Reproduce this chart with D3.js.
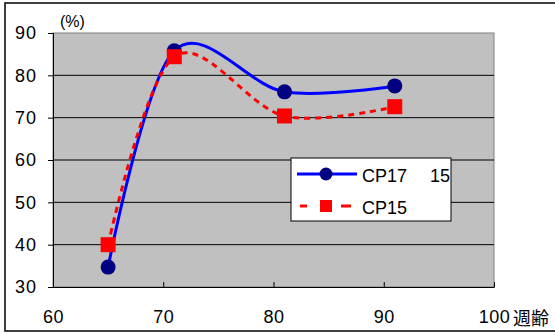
<!DOCTYPE html>
<html>
<head>
<meta charset="utf-8">
<script src="https://cdn.jsdelivr.net/npm/d3@7"></script>
<style>
  body { margin: 0; background: #fff; }
  svg { display: block; font-family: "Liberation Sans", Arial, sans-serif; }
</style>
</head>
<body>
<div id="chart"></div>
<script>
    var ages = [65, 71, 81, 91],
        cp17 = [34.7, 85.8, 76.1, 77.5],
        cp15 = [40, 84.4, 70.4, 72.6],
        xTicks = [60, 70, 80, 90, 100],
        yTicks = [30, 40, 50, 60, 70, 80, 90],
        seriesNames = ["CP17\u3000 15", "CP15"];

    var width = 555,
        height = 333,
        plotLeft = 53, plotRight = 494, plotTop = 33, plotBottom = 287;

    var svg = d3.select("#chart").append("svg")
        .attr("width", width)
        .attr("height", height);

    // outer frame
    svg.append("rect")
        .attr("x", 5).attr("y", 3)
        .attr("width", 560).attr("height", 328)
        .attr("fill", "#fff")
        .attr("stroke", "#000")
        .attr("stroke-width", 1.5);

    var x = d3.scaleLinear().domain([60, 100]).range([plotLeft, plotRight]);
    var y = d3.scaleLinear().domain([30, 90]).range([plotBottom, plotTop]);

    // plot area
    svg.append("rect")
        .attr("x", plotLeft).attr("y", plotTop)
        .attr("width", plotRight - plotLeft).attr("height", plotBottom - plotTop)
        .attr("fill", "#c0c0c0")
        .attr("stroke", "#808080")
        .attr("stroke-width", 1);

    // gridlines
    svg.selectAll(".grid")
        .data(yTicks.filter(function(d) { return d > 30 && d < 90; }))
        .enter().append("line")
        .attr("class", "grid")
        .attr("x1", plotLeft).attr("x2", plotRight)
        .attr("y1", function(d) { return y(d); })
        .attr("y2", function(d) { return y(d); })
        .attr("stroke", "#000")
        .attr("stroke-width", 1);

    // y axis
    var yAxis = svg.append("g")
        .attr("transform", "translate(" + plotLeft + ",0)")
        .call(d3.axisLeft(y).tickValues(yTicks).tickSize(5).tickPadding(11));
    yAxis.select(".domain").attr("stroke", "#000");
    yAxis.selectAll("text").attr("font-size", 18).attr("fill", "#000")
        .attr("letter-spacing", 1)
        .attr("font-family", "Liberation Sans, Arial, sans-serif");

    // x axis (ticks pointing inward)
    var xAxis = svg.append("g")
        .attr("transform", "translate(0," + plotBottom + ")")
        .call(d3.axisBottom(x).tickValues(xTicks).tickSizeInner(-5).tickSizeOuter(0).tickPadding(0));
    xAxis.select(".domain").attr("stroke", "#000");
    xAxis.selectAll("text").attr("font-size", 18).attr("fill", "#000")
        .attr("dy", null).attr("y", 36)
        .attr("letter-spacing", 0.5)
        .attr("font-family", "Liberation Sans, Arial, sans-serif");

    svg.append("text")
        .attr("x", 513).attr("y", 325)
        .attr("font-size", 18)
        .attr("font-family", "Noto Sans CJK JP, sans-serif")
        .text("週齢");

    svg.append("text")
        .attr("x", 60).attr("y", 27)
        .attr("font-size", 16)
        .text("(%)");

    var line = d3.line()
        .x(function(d, i) { return x(ages[i]); })
        .y(function(d) { return y(d); })
        .curve(d3.curveCardinal.tension(0));

    svg.append("path")
        .datum(cp17)
        .attr("d", line)
        .attr("fill", "none")
        .attr("stroke", "#0000ff")
        .attr("stroke-width", 3);

    svg.append("path")
        .datum(cp15)
        .attr("d", line)
        .attr("fill", "none")
        .attr("stroke", "#ff0000")
        .attr("stroke-width", 3)
        .attr("stroke-dasharray", "6,5");

    svg.selectAll(".dot17")
        .data(cp17)
        .enter().append("circle")
        .attr("cx", function(d, i) { return x(ages[i]); })
        .attr("cy", function(d) { return y(d); })
        .attr("r", 7.5)
        .attr("fill", "#000080");

    svg.selectAll(".sq15")
        .data(cp15)
        .enter().append("rect")
        .attr("x", function(d, i) { return x(ages[i]) - 7.5; })
        .attr("y", function(d) { return y(d) - 7.5; })
        .attr("width", 15).attr("height", 15)
        .attr("fill", "#ff0000");

    // legend
    var legend = svg.append("g").attr("transform", "translate(291,158)");
    legend.append("rect")
        .attr("width", 160).attr("height", 63)
        .attr("fill", "#fff")
        .attr("stroke", "#000")
        .attr("stroke-width", 1);

    legend.append("line")
        .attr("x1", 6).attr("x2", 66).attr("y1", 16).attr("y2", 16)
        .attr("stroke", "#0000ff").attr("stroke-width", 3);
    legend.append("circle")
        .attr("cx", 35).attr("cy", 16).attr("r", 6.5).attr("fill", "#000080");

    legend.append("line")
        .attr("x1", 6).attr("x2", 66).attr("y1", 48).attr("y2", 48)
        .attr("stroke", "#ff0000").attr("stroke-width", 3)
        .attr("stroke-dasharray", "0,3,7,14,0,20,7");
    legend.append("rect")
        .attr("x", 29).attr("y", 42).attr("width", 12).attr("height", 12)
        .attr("fill", "#ff0000");

    legend.selectAll(".ltext")
        .data(seriesNames)
        .enter().append("text")
        .attr("x", 71)
        .attr("y", function(d, i) { return 23.5 + i * 32.5; })
        .attr("font-size", 18)
        .attr("xml:space", "preserve")
        .text(function(d) { return d; });
</script>
</body>
</html>
